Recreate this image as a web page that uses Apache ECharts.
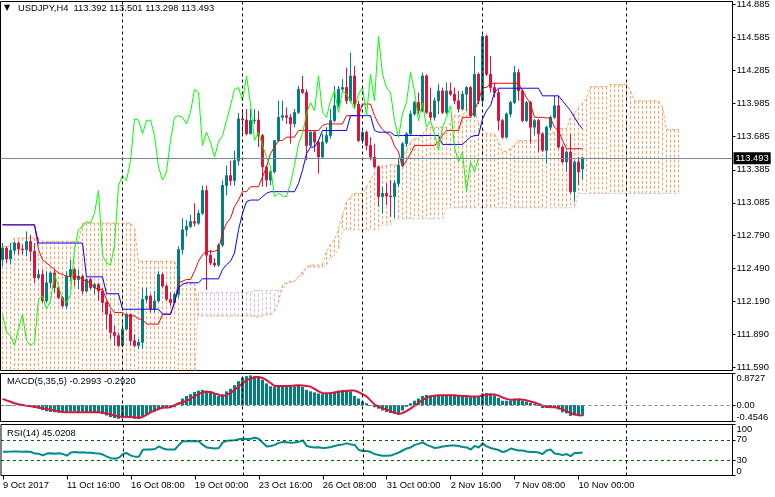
<!DOCTYPE html>
<html><head><meta charset="utf-8">
<script src="https://cdn.jsdelivr.net/npm/echarts@6/dist/echarts.min.js"></script>
<style>html,body{margin:0;padding:0;background:#fff;}#c{width:775px;height:497px;}</style>
</head><body><div id="c"></div>
<script>
const xTickLabels = ['9 Oct 2017','11 Oct 16:00','16 Oct 08:00','19 Oct 00:00','23 Oct 16:00','26 Oct 08:00','31 Oct 00:00','2 Nov 16:00','7 Nov 08:00','10 Nov 00:00'];
const priceTicks = [114.885,114.585,114.285,113.985,113.685,113.385,113.085,112.790,112.490,112.190,111.890,111.590];

const open = [112.569,112.675,112.575,112.654,112.720,112.666,112.660,112.735,112.645,112.404,
112.434,112.194,112.359,112.449,112.314,112.224,112.149,112.419,112.479,112.389,
112.419,112.284,112.389,112.314,112.344,112.284,112.179,112.074,111.909,111.879,
111.789,111.939,112.074,111.834,111.789,111.819,112.209,112.239,112.119,112.194,
112.434,112.329,112.209,112.179,112.254,112.660,112.840,112.870,112.915,112.900,
112.990,113.197,112.610,112.538,112.520,112.700,113.242,113.332,113.287,113.468,
113.847,113.837,113.711,113.831,113.837,113.696,113.411,113.291,113.366,113.651,
113.861,113.876,113.861,113.801,113.906,114.116,114.086,113.606,113.726,113.636,
113.501,113.636,113.696,113.831,113.966,114.116,114.131,114.011,114.237,113.981,
113.651,113.726,113.606,113.501,113.411,113.141,113.171,113.147,113.141,113.261,
113.426,113.621,113.711,113.891,113.996,113.921,114.237,113.906,113.861,114.011,
114.101,113.906,114.101,114.071,114.011,113.936,114.071,114.131,113.876,114.252,
114.011,114.597,114.252,114.131,114.086,113.831,113.681,113.891,113.996,114.267,
114.101,113.831,113.996,113.771,113.831,113.711,113.561,113.771,113.861,113.966,
113.591,113.456,113.546,113.186,113.456,113.392];
const close = [112.675,112.575,112.654,112.720,112.666,112.660,112.735,112.645,112.404,112.434,
112.194,112.359,112.449,112.314,112.224,112.149,112.419,112.479,112.389,112.419,
112.284,112.389,112.314,112.344,112.284,112.179,112.074,111.909,111.879,111.789,
111.939,112.074,111.834,111.789,111.819,112.209,112.239,112.119,112.194,112.434,
112.329,112.209,112.179,112.254,112.660,112.840,112.870,112.915,112.900,112.990,
113.197,112.610,112.538,112.520,112.700,113.242,113.332,113.287,113.468,113.847,
113.837,113.711,113.831,113.837,113.696,113.411,113.291,113.366,113.651,113.861,
113.876,113.861,113.801,113.906,114.116,114.086,113.606,113.726,113.636,113.501,
113.636,113.696,113.831,113.966,114.116,114.131,114.011,114.237,113.981,113.651,
113.726,113.606,113.501,113.411,113.141,113.171,113.147,113.141,113.261,113.426,
113.621,113.711,113.891,113.996,113.921,114.237,113.906,113.861,114.011,114.101,
113.906,114.101,114.071,114.011,113.936,114.071,114.131,113.876,114.252,114.011,
114.597,114.252,114.131,114.086,113.831,113.681,113.891,113.996,114.267,114.101,
113.831,113.996,113.771,113.831,113.711,113.561,113.771,113.861,113.966,113.591,
113.456,113.546,113.186,113.456,113.366,113.493];
const high = [112.720,112.690,112.720,112.735,112.735,112.705,112.825,112.795,112.720,112.479,
112.479,112.464,112.464,112.479,112.329,112.239,112.464,112.569,112.494,112.479,
112.434,112.404,112.404,112.359,112.359,112.314,112.194,112.104,111.969,111.909,
111.999,112.089,112.074,111.894,111.849,112.314,112.314,112.254,112.284,112.464,
112.449,112.344,112.269,112.269,112.690,112.945,112.930,112.975,113.080,113.020,
113.242,113.242,112.655,112.583,112.718,113.287,113.423,113.468,113.558,113.901,
113.936,113.936,113.936,113.936,113.921,113.711,113.426,113.381,113.651,114.011,
114.011,113.951,113.891,113.936,114.146,114.237,114.116,113.741,113.741,113.651,
113.711,113.771,113.936,114.146,114.146,114.207,114.312,114.447,114.327,114.011,
113.741,113.741,113.681,113.621,113.426,113.231,113.261,113.291,113.291,113.486,
113.636,113.726,113.921,114.011,114.086,114.267,114.252,114.131,114.041,114.161,
114.131,114.176,114.176,114.131,114.101,114.101,114.146,114.146,114.417,114.267,
114.612,114.612,114.417,114.176,114.116,113.846,113.906,114.011,114.327,114.297,
114.116,114.011,114.011,113.846,113.846,113.726,113.786,113.876,114.056,114.056,
113.606,113.561,113.711,113.471,113.501,113.501];
const low = [112.509,112.539,112.524,112.615,112.615,112.615,112.600,112.554,112.359,112.389,
112.179,112.179,112.314,112.269,112.209,112.134,112.119,112.374,112.329,112.299,
112.254,112.269,112.299,112.254,112.194,112.089,111.939,111.849,111.789,111.774,
111.774,111.924,111.789,111.774,111.759,111.759,112.179,112.089,112.089,112.179,
112.314,112.194,112.149,112.164,112.224,112.615,112.780,112.855,112.870,112.885,
112.975,112.294,112.520,112.502,112.502,112.682,113.152,113.242,113.242,113.423,
113.696,113.696,113.711,113.801,113.591,113.231,113.231,113.246,113.351,113.636,
113.831,113.801,113.621,113.771,113.891,114.071,113.471,113.591,113.546,113.351,
113.486,113.621,113.666,113.816,113.951,114.086,113.981,113.996,113.951,113.636,
113.621,113.561,113.471,113.396,113.050,112.990,113.065,112.960,112.945,113.231,
113.411,113.591,113.696,113.876,113.891,113.906,113.891,113.831,113.831,113.891,
113.891,113.891,114.056,113.981,113.906,113.921,113.921,113.861,113.861,113.981,
113.981,114.237,114.086,114.041,113.741,113.666,113.666,113.861,113.981,114.011,
113.816,113.816,113.621,113.696,113.546,113.546,113.441,113.741,113.846,113.576,
113.441,113.366,113.171,113.095,113.246,113.298];

const tenkan = [112.885,112.885,112.885,112.885,112.885,112.885,112.885,112.885,112.885,112.660,
112.569,112.539,112.509,112.479,112.449,112.434,112.419,112.413,112.413,112.413,
112.389,112.374,112.359,112.314,112.299,112.299,112.209,112.134,112.089,112.089,
112.089,112.059,112.059,112.059,112.029,112.029,111.984,111.984,111.984,111.984,
112.074,112.074,112.074,112.179,112.359,112.374,112.389,112.389,112.464,112.554,
112.615,112.645,112.645,112.645,112.660,112.810,112.900,112.945,113.050,113.110,
113.186,113.186,113.231,113.231,113.231,113.321,113.411,113.531,113.591,113.651,
113.651,113.681,113.681,113.681,113.741,113.741,113.741,113.741,113.741,113.741,
113.786,113.801,113.801,113.801,113.801,113.801,113.876,113.876,113.876,113.876,
113.981,113.981,113.981,113.876,113.801,113.750,113.720,113.696,113.600,113.546,
113.411,113.471,113.531,113.606,113.606,113.606,113.606,113.606,113.606,113.636,
113.696,113.741,113.741,113.741,113.741,113.861,113.861,113.861,113.921,114.011,
114.131,114.131,114.170,114.170,114.170,114.170,114.170,114.170,114.170,114.170,
114.101,114.041,113.981,113.861,113.861,113.861,113.855,113.855,113.771,113.741,
113.651,113.576,113.576,113.576,113.576,113.576];
const kijun = [112.885,112.885,112.885,112.885,112.885,112.885,112.885,112.885,112.885,112.720,
112.720,112.720,112.720,112.720,112.720,112.720,112.720,112.720,112.720,112.720,
112.720,112.413,112.413,112.413,112.413,112.413,112.260,112.260,112.260,112.260,
112.119,112.119,112.119,112.119,112.119,112.119,112.119,112.119,112.119,112.119,
112.074,112.074,112.074,112.179,112.314,112.344,112.359,112.359,112.359,112.359,
112.395,112.395,112.395,112.395,112.395,112.479,112.524,112.554,112.630,112.840,
112.990,113.095,113.110,113.110,113.110,113.141,113.171,113.186,113.186,113.186,
113.186,113.186,113.186,113.186,113.261,113.381,113.531,113.591,113.591,113.651,
113.741,113.741,113.741,113.741,113.741,113.741,113.741,113.876,113.876,113.876,
113.876,113.876,113.876,113.741,113.726,113.726,113.726,113.726,113.696,113.696,
113.696,113.696,113.696,113.696,113.696,113.696,113.696,113.696,113.696,113.696,
113.615,113.615,113.615,113.615,113.615,113.615,113.651,113.681,113.696,113.696,
113.846,113.921,113.966,114.086,114.125,114.125,114.125,114.125,114.125,114.125,
114.125,114.125,114.125,114.125,114.125,114.056,114.056,114.056,114.056,114.056,
114.011,113.966,113.921,113.861,113.801,113.756];
const spanA = [112.690,112.690,112.690,112.765,112.765,112.765,112.765,112.765,112.765,112.765,
112.735,112.735,112.735,112.735,112.735,112.735,112.735,112.735,112.735,112.735,
112.900,112.900,112.900,112.900,112.900,112.900,112.900,112.900,112.900,112.900,
112.900,112.900,112.900,112.850,112.554,112.554,112.554,112.554,112.554,112.554,
112.554,112.554,112.554,112.554,112.450,112.359,112.359,112.359,112.359,112.059,
112.059,112.059,112.059,112.059,112.059,112.059,112.059,112.059,112.059,112.059,
112.059,112.059,112.059,112.050,112.050,112.060,112.070,112.070,112.100,112.180,
112.340,112.360,112.374,112.374,112.410,112.460,112.500,112.520,112.520,112.520,
112.530,112.640,112.710,112.750,112.840,112.975,113.090,113.140,113.170,113.170,
113.170,113.230,113.290,113.360,113.390,113.420,113.420,113.430,113.430,113.430,
113.500,113.560,113.636,113.670,113.670,113.700,113.760,113.770,113.770,113.770,
113.770,113.770,113.810,113.876,113.876,113.876,113.930,113.930,113.930,113.810,
113.760,113.710,113.710,113.710,113.636,113.550,113.550,113.580,113.610,113.650,
113.650,113.650,113.650,113.650,113.650,113.666,113.696,113.720,113.720,113.760,
113.760,113.760,113.860,113.900,113.950,113.990,114.030,114.140,114.140,114.140,
114.140,114.140,114.160,114.160,114.160,114.160,114.160,114.100,114.010,114.010,
114.010,114.010,114.010,114.010,114.010,113.950,113.750,113.750,113.750,113.750];
const spanB = [111.400,111.400,111.400,111.400,111.400,111.400,111.400,111.400,111.400,111.400,
111.400,111.400,111.400,111.400,111.400,111.400,111.400,111.400,111.400,111.400,
111.400,111.400,111.400,111.400,111.400,111.400,111.400,111.400,111.400,111.400,
111.400,111.400,111.400,111.400,111.400,111.400,111.400,111.400,111.400,111.400,
111.400,111.400,111.400,111.400,111.400,111.400,111.400,111.400,111.400,112.270,
112.270,112.270,112.270,112.270,112.270,112.270,112.270,112.270,112.270,112.270,
112.270,112.270,112.270,112.290,112.290,112.290,112.290,112.290,112.290,112.290,
112.290,112.350,112.360,112.370,112.420,112.420,112.500,112.500,112.500,112.500,
112.500,112.520,112.590,112.610,112.660,112.840,112.840,112.840,112.840,112.840,
112.840,112.840,112.840,112.840,112.840,112.885,112.885,112.885,112.940,112.940,
112.940,112.940,112.940,112.940,112.940,112.940,112.940,112.940,112.940,112.940,
112.940,113.040,113.040,113.040,113.040,113.040,113.040,113.040,113.040,113.040,
113.040,113.040,113.040,113.040,113.040,113.040,113.040,113.040,113.040,113.040,
113.040,113.040,113.040,113.040,113.040,113.040,113.040,113.040,113.040,113.040,
113.040,113.040,113.040,113.040,113.170,113.170,113.170,113.170,113.170,113.170,
113.170,113.170,113.170,113.170,113.170,113.170,113.170,113.170,113.170,113.170,
113.170,113.170,113.170,113.170,113.170,113.170,113.170,113.170,113.170,113.170];

const macdHist = [-0.02,-0.02,-0.02,-0.01,0.00,-0.02,-0.03,-0.04,-0.08,-0.10,
-0.14,-0.17,-0.19,-0.20,-0.21,-0.20,-0.19,-0.18,-0.18,-0.19,
-0.19,-0.20,-0.20,-0.21,-0.22,-0.25,-0.29,-0.33,-0.36,-0.38,
-0.36,-0.35,-0.36,-0.38,-0.37,-0.30,-0.26,-0.22,-0.18,-0.12,
-0.10,-0.09,-0.08,-0.06,0.05,0.18,0.25,0.30,0.36,0.40,
0.42,0.40,0.38,0.30,0.25,0.30,0.38,0.45,0.55,0.66,
0.76,0.80,0.82,0.80,0.76,0.70,0.60,0.52,0.50,0.50,
0.52,0.50,0.50,0.52,0.55,0.50,0.42,0.38,0.35,0.32,
0.30,0.33,0.35,0.37,0.40,0.42,0.42,0.38,0.25,0.18,
0.10,0.05,-0.02,-0.06,-0.10,-0.15,-0.19,-0.22,-0.24,-0.25,
-0.15,-0.05,0.05,0.12,0.18,0.25,0.28,0.27,0.27,0.28,
0.27,0.27,0.28,0.27,0.25,0.24,0.24,0.22,0.25,0.24,
0.32,0.33,0.30,0.27,0.20,0.12,0.12,0.13,0.18,0.17,
0.12,0.10,0.06,0.03,-0.02,-0.08,-0.08,-0.06,-0.06,-0.12,
-0.20,-0.23,-0.30,-0.29,-0.30,-0.2993];
const macdSignal = [0.17,0.13,0.09,0.05,0.02,0.00,-0.02,-0.03,-0.05,-0.07,
-0.09,-0.11,-0.13,-0.15,-0.17,-0.19,-0.20,-0.20,-0.20,-0.20,
-0.20,-0.20,-0.20,-0.20,-0.20,-0.21,-0.23,-0.26,-0.29,-0.31,
-0.32,-0.32,-0.33,-0.34,-0.36,-0.33,-0.27,-0.20,-0.15,-0.11,
-0.07,-0.07,-0.06,0.00,0.05,0.08,0.11,0.18,0.24,0.30,
0.36,0.36,0.36,0.32,0.29,0.24,0.28,0.33,0.42,0.51,
0.60,0.69,0.73,0.76,0.78,0.75,0.69,0.61,0.53,0.53,
0.53,0.53,0.53,0.54,0.55,0.54,0.53,0.51,0.45,0.38,
0.33,0.33,0.33,0.35,0.37,0.38,0.39,0.40,0.40,0.36,
0.30,0.24,0.13,0.02,-0.05,-0.09,-0.12,-0.17,-0.21,-0.25,
-0.22,-0.17,-0.10,-0.02,0.06,0.14,0.20,0.24,0.26,0.27,
0.27,0.27,0.27,0.27,0.26,0.25,0.25,0.24,0.24,0.24,
0.26,0.29,0.30,0.29,0.26,0.21,0.17,0.15,0.15,0.16,
0.15,0.13,0.10,0.07,0.03,-0.02,-0.05,-0.06,-0.06,-0.08,
-0.12,-0.17,-0.22,-0.25,-0.28,-0.2920];
const rsi = [46.7,46.7,46.9,47.2,46.9,46.7,47,46,43,42.5,
39.5,43,43.5,42.5,43.5,42,39,45,46,45,
45.5,44.5,44.5,43.5,43,41,37,34,33,35,
42,44,39,37,37,50.7,51,51,52,57,
53,51,51,51,60,67,67,67.5,67,67,
60,55,54,53,54,65,68,68.7,69,71,
72,71.5,72,74,72,64,57,58,60,64,
65.5,65,64,64.5,66,69,58,56,55,55.3,
54,54.5,56,58,60,61,63,61,60,50,
48,48,46,42,40,38.7,38.7,39,42,45,
49,53,55,60,62,65,60,57,54,55,
57,58,59,59,58,56,55,51,58,55,
63,57,54,52,50,46,48,53,51,49,
49,47,46,46,45,42,49,51,43,42,
40,42,38,44,44,45.02];
const chikou = close.slice(26);
const lastPrice = 113.493;

const TOTAL = 183, LBL_EVERY = 16;
const categories = [];
for (let i = 0; i < TOTAL; i++) {
  const k = i / LBL_EVERY;
  categories.push(Number.isInteger(k) && k < xTickLabels.length ? xTickLabels[k] : '');
}
const isLbl = (i) => i % LBL_EVERY === 0 && i / LBL_EVERY < xTickLabels.length;
const weekLines = [30, 60, 90, 120, 156];
const FONT = 'Liberation Sans';
const FS = 9.4;
const TEAL = '#008080', CRIMSON = '#DC143C';

const vLines = weekLines.map(x => ({xAxis: x, lineStyle: {color: '#000', type: [3, 3], width: 1}}));

const candleData = open.map((o, i) => [o, close[i], low[i], high[i]]);
const cloudData = spanA.map((a, i) => [i, a, spanB[i]]);

const baseX = (gi, showLabel) => ({
  type: 'category', gridIndex: gi, data: categories, boundaryGap: true,
  axisLine: {show: false}, splitLine: {show: false},
  axisTick: showLabel ? {show: true, interval: isLbl, alignWithLabel: true, length: 4, lineStyle: {color: '#000'}} : {show: false},
  axisLabel: showLabel ? {show: true, interval: isLbl, align: 'left', margin: 5, color: '#000', fontFamily: FONT, fontSize: FS} : {show: false}
});
const valY = (gi, min, max, vals, fmt, va, primary) => ({
  type: 'value', gridIndex: gi, position: 'right', min: min, max: max, scale: true,
  splitLine: {show: false},
  axisLine: {show: primary, lineStyle: {color: '#000'}},
  axisTick: {show: true, length: 3, customValues: vals, lineStyle: {color: '#000'}},
  axisLabel: {show: true, customValues: vals, formatter: fmt, margin: 4, color: '#000',
    fontFamily: FONT, fontSize: FS, verticalAlign: va}
});

const option = {
  animation: false,
  backgroundColor: '#fff',
  title: [
    {text: '\u25BC', left: 4, top: 4, padding: 0, textStyle: {fontSize: 8, fontWeight: 'normal', color: '#000', fontFamily: 'DejaVu Sans'}},
    {text: 'USDJPY,H4  113.392 113.501 113.298 113.493', left: 18, top: 4, padding: 0, textStyle: {fontSize: FS, fontWeight: 'normal', color: '#000', fontFamily: FONT}},
    {text: 'MACD(5,35,5) -0.2993 -0.2920', left: 7, top: 377, padding: 0, textStyle: {fontSize: FS, fontWeight: 'normal', color: '#000', fontFamily: FONT}},
    {text: 'RSI(14) 45.0208', left: 7, top: 429, padding: 0, textStyle: {fontSize: FS, fontWeight: 'normal', color: '#000', fontFamily: FONT}}
  ],
  grid: [
    {left: 0.5, top: 0.5, width: 732, height: 370, show: true, borderColor: '#000', borderWidth: 1, backgroundColor: 'transparent'},
    {left: 0.5, top: 373.5, width: 732, height: 48, show: true, borderColor: '#000', borderWidth: 1, backgroundColor: 'transparent'},
    {left: 0.5, top: 424.5, width: 732, height: 51, show: true, borderColor: '#000', borderWidth: 1, backgroundColor: 'transparent'}
  ],
  xAxis: [baseX(0, false), baseX(1, false), baseX(2, true)],
  yAxis: [
    valY(0, 111.563, 114.912, priceTicks, v => v.toFixed(3), 'middle', true),
    valY(1, -0.4546, 0.8727, [0], v => '0.00', 'middle', true),
    valY(1, -0.4546, 0.8727, [0.8727], v => v.toFixed(4), 'top', false),
    valY(1, -0.4546, 0.8727, [-0.4546], v => v.toFixed(4), 'bottom', false),
    valY(2, 0, 100, [70, 30], v => String(v), 'middle', true),
    valY(2, 0, 100, [100], v => String(v), 'top', false),
    valY(2, 0, 100, [0], v => String(v), 'bottom', false)
  ],
  series: [
    {type: 'custom', name: 'kumo', xAxisIndex: 0, yAxisIndex: 0, clip: true, z: 1, silent: true,
      data: cloudData, encode: {x: 0, y: [1, 2]},
      renderItem: function (params, api) {
        const a = api.value(1), b = api.value(2);
        const p1 = api.coord([api.value(0), a]);
        const p2 = api.coord([api.value(0), b]);
        return {type: 'line', shape: {x1: p1[0], y1: p1[1], x2: p1[0], y2: p2[1]},
          style: {stroke: a >= b ? '#F4A460' : '#D8BFD8', lineWidth: 1, lineDash: [3, 2]}};
      }},
    {type: 'line', name: 'Senkou A', xAxisIndex: 0, yAxisIndex: 0, data: spanA, symbol: 'none', z: 2, silent: true,
      lineStyle: {color: '#F4A460', width: 1, type: [3, 2]}},
    {type: 'line', name: 'Senkou B', xAxisIndex: 0, yAxisIndex: 0, data: spanB, symbol: 'none', z: 2, silent: true,
      lineStyle: {color: '#D8BFD8', width: 1, type: [3, 2]}},
    {type: 'candlestick', name: 'USDJPY', xAxisIndex: 0, yAxisIndex: 0, data: candleData, barWidth: 2, z: 3,
      itemStyle: {color: TEAL, color0: CRIMSON, borderColor: TEAL, borderColor0: CRIMSON, borderWidth: 1},
      markLine: {symbol: 'none', silent: true, animation: false,
        data: vLines.concat([{yAxis: lastPrice, lineStyle: {color: '#778899', type: 'solid', width: 1},
          label: {show: true, position: 'end', distance: 1, formatter: () => lastPrice.toFixed(3), color: '#fff',
            backgroundColor: '#000', padding: [2, 2, 1, 2], fontFamily: FONT, fontSize: FS}}]),
        label: {show: false}}},
    {type: 'line', name: 'Tenkan', xAxisIndex: 0, yAxisIndex: 0, data: tenkan, symbol: 'none', z: 4, silent: true,
      lineStyle: {color: '#FF0000', width: 1}},
    {type: 'line', name: 'Kijun', xAxisIndex: 0, yAxisIndex: 0, data: kijun, symbol: 'none', z: 4, silent: true,
      lineStyle: {color: '#0000FF', width: 1}},
    {type: 'line', name: 'Chikou', xAxisIndex: 0, yAxisIndex: 0, data: chikou, symbol: 'none', z: 4, silent: true,
      lineStyle: {color: '#00FF00', width: 1}},
    {type: 'bar', name: 'MACD', xAxisIndex: 1, yAxisIndex: 1, data: macdHist, barWidth: 3, z: 2, silent: true,
      itemStyle: {color: TEAL},
      markLine: {symbol: 'none', silent: true, label: {show: false},
        data: vLines.concat([{yAxis: 0, lineStyle: {color: '#808080', type: [3, 3], width: 1}}])}},
    {type: 'line', name: 'Signal', xAxisIndex: 1, yAxisIndex: 1, data: macdSignal, symbol: 'none', z: 3, silent: true,
      lineStyle: {color: CRIMSON, width: 2}},
    {type: 'line', name: 'RSI', xAxisIndex: 2, yAxisIndex: 4, data: rsi, symbol: 'none', z: 3, silent: true,
      lineStyle: {color: '#008B8B', width: 2},
      markLine: {symbol: 'none', silent: true, label: {show: false},
        data: vLines.concat([{yAxis: 70, lineStyle: {color: '#006400', type: [3, 3], width: 1}},
                             {yAxis: 30, lineStyle: {color: '#006400', type: [3, 3], width: 1}}])}}
  ]
};
const chart = echarts.init(document.getElementById('c'));
chart.setOption(option);
</script></body></html>
